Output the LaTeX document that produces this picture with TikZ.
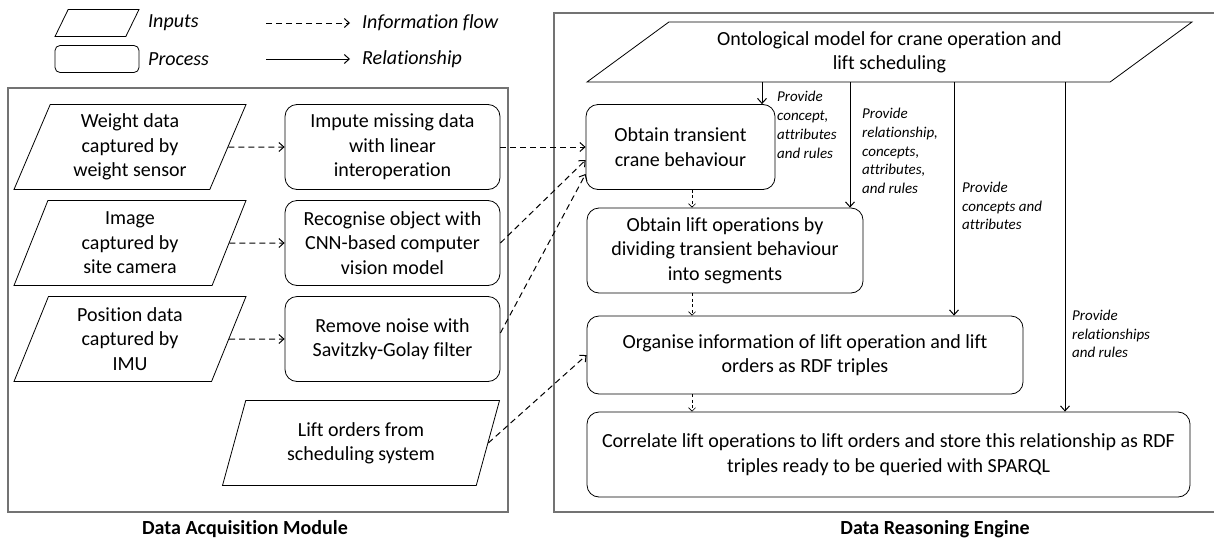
\documentclass[tikz,border=0pt]{standalone}
\usepackage{fontspec}
\setmainfont{Carlito}[Ligatures=NoCommon]
\usetikzlibrary{shapes.geometric,arrows.meta}

\begin{document}
\begin{tikzpicture}[x=1pt,y=-1pt,>={Straight Barb[length=5pt,width=9pt]},
  every node/.style={font=\fontsize{20}{24.4}\selectfont},
  frame/.style={draw=black!55,line width=1.3pt},
  inp/.style={trapezium,trapezium left angle=62,trapezium right angle=118,
    trapezium stretches body,draw,line width=0.8pt,align=center,
    minimum width=#1,minimum height=85pt,inner sep=1pt},
  proc/.style={draw,rounded corners=12pt,line width=0.8pt,align=center,
    minimum width=#1,minimum height=85pt,inner sep=2pt},
  flow/.style={->,dash pattern=on 6pt off 4pt,line width=1pt},
  flowthin/.style={-{Straight Barb[length=3.5pt,width=7pt]},dash pattern=on 3pt off 2.5pt,line width=0.6pt},
  rel/.style={->,line width=1pt},
  note/.style={font=\fontsize{15}{18.8}\selectfont\itshape,align=left,anchor=west,inner sep=0pt},
  key/.style={font=\fontsize{20}{24.4}\selectfont\itshape,anchor=west,inner sep=0pt},
  title/.style={font=\fontsize{20}{24.4}\selectfont\bfseries}]
\useasboundingbox (0,0) rectangle (1214,541);

% legend
\node[inp=84pt,minimum height=27pt,inner xsep=0pt,inner ysep=13.5pt,trapezium left angle=64,trapezium right angle=116] (keyin) at (97,23) {};
\node[key] (keyintxt) at (148,23) {Inputs};
\node[proc=84pt,minimum height=27pt,rounded corners=5pt] (keyproc) at (97,59) {};
\node[key] (keyproctxt) at (148,59) {Process};
\coordinate (keyfl) at (266,23);
\node[key] (keyfltxt) at (362,23) {Information flow};
\coordinate (keyrel) at (266,59);
\node[key] (keyreltxt) at (362,59) {Relationship};
\draw[flow] (keyfl) -- ([xshift=-12pt]keyfltxt.west);
\draw[rel] (keyrel) -- ([xshift=-12pt]keyreltxt.west);

% the two modules
\draw[frame] (8,88) rectangle (508,512);
\draw[frame] (1230,13) -- (554,13) -- (554,512) -- (1230,512);
\node[title] (dam) at (245,529) {Data Acquisition Module};
\node[title] (dre) at (935,529) {Data Reasoning Engine};

% data acquisition
\node[inp=232pt] (weight) at (130,147) {Weight data\\captured by\\weight sensor};
\node[inp=232pt] (image) at (130,243) {Image\\captured by\\site camera};
\node[inp=232pt] (position) at (130,339) {Position data\\captured by\\IMU};
\node[inp=277pt] (orders) at (361,443) {Lift orders from\\scheduling system};
\node[proc=215pt] (impute) at (392.5,147) {Impute missing data\\with linear\\interoperation};
\node[proc=215pt] (recognise) at (392.5,243) {Recognise object with\\CNN-based computer\\vision model};
\node[proc=215pt] (denoise) at (392.5,339) {Remove noise with\\Savitzky-Golay filter};

\draw[flow] (weight.east) -- (impute.west);
\draw[flow] (image.east) -- (recognise.west);
\draw[flow] (position.east) -- (denoise.west);

% data reasoning
\node[inp=605pt,minimum height=60pt,trapezium left angle=27,trapezium right angle=153,inner sep=0pt] (onto) at (889.5,52) {Ontological model for crane operation and\\lift scheduling};
\node[proc=189pt] (transient) at (680.5,147) {Obtain transient\\crane behaviour};
\node[proc=276pt] (segment) at (725,250.5) {Obtain lift operations by\\dividing transient behaviour\\into segments};
\node[proc=436pt,minimum height=78pt] (organise) at (805,355) {Organise information of lift operation and lift\\orders as RDF triples};
\node[proc=603pt] (correlate) at (888.5,454.5) {Correlate lift operations to lift orders and store this relationship as RDF\\triples ready to be queried with SPARQL};

\draw[flow] (impute.east) -- (transient.west);
\draw[flow] (recognise.east) -- ([yshift=-13pt]transient.west);
\draw[flow] ([yshift=6pt]denoise.east) -- ([yshift=-27pt]transient.west);
\draw[flow] (orders.east) -- (organise.west);

\coordinate (down) at (692,0);
\draw[flowthin] (down |- transient.south) -- (down |- segment.north);
\draw[flowthin] (down |- segment.south) -- (down |- organise.north);
\draw[flowthin] (down |- organise.south) -- (down |- correlate.north);

% ontology feeds every step
\coordinate (r1) at (762,0);
\coordinate (r2) at (850,0);
\coordinate (r3) at (954,0);
\coordinate (r4) at (1065,0);
\draw[rel] (r1 |- onto.south) -- (r1 |- transient.north);
\draw[rel] (r2 |- onto.south) -- (r2 |- segment.north);
\draw[rel] (r3 |- onto.south) -- (r3 |- organise.north);
\draw[rel] (r4 |- onto.south) -- (r4 |- correlate.north);
\node[note] (n1) at (777,125) {Provide\\concept,\\attributes\\and rules};
\node[note] (n2) at (862,151) {Provide\\relationship,\\concepts,\\attributes,\\and rules};
\node[note] (n3) at (962,206) {Provide\\concepts and\\attributes};
\node[note] (n4) at (1072,334) {Provide\\relationships\\and rules};
\end{tikzpicture}
\end{document}
